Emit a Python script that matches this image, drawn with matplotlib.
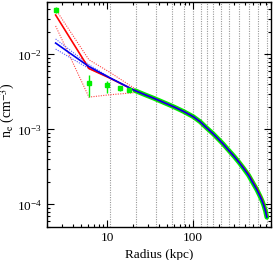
import matplotlib
matplotlib.use("Agg")
import matplotlib.pyplot as plt
from matplotlib.ticker import LogLocator, LogFormatterMathtext, NullFormatter

plt.rcParams['font.family'] = ['Liberation Serif', 'DejaVu Serif']
plt.rcParams['mathtext.fontset'] = 'stix'

# Annulus boundaries (vertical dotted lines), kpc
bounds = [10.9, 21.9, 37.1, 57, 77.6, 98.6, 122, 143.5, 171, 209, 262, 343, 442, 562, 725]

# Inner data points (green) with error bars
pt_r = [2.52, 6.14, 10.0, 14.2, 17.9]
pt_n = [0.039, 0.0042, 0.0039, 0.0036, 0.0034]
pt_lo = [0.0356, 0.0027, 0.0031, 0.0033, 0.0032]
pt_hi = [0.0429, 0.0053, 0.0044, 0.0038, 0.0036]

# Common outer profile
prof_r = [21, 28, 35, 45, 59, 77, 100, 120, 143, 170, 200, 222, 245, 270, 300, 340,
          386, 440, 505, 550, 600, 630, 660, 690, 716]
prof_n = [3.30e-3, 2.88e-3, 2.60e-3, 2.30e-3, 2.01e-3, 1.74e-3, 1.48e-3, 1.27e-3,
          1.05e-3, 8.77e-4, 7.26e-4, 6.41e-4, 5.64e-4, 4.97e-4, 4.34e-4, 3.64e-4,
          3.01e-4, 2.44e-4, 1.85e-4, 1.56e-4, 1.27e-4, 1.12e-4, 9.7e-5, 8.2e-5, 6.73e-5]
prof_n_red = [3.30e-3, 2.88e-3, 2.60e-3, 2.30e-3, 2.01e-3, 1.74e-3, 1.48e-3, 1.27e-3,
              1.05e-3, 8.77e-4, 7.26e-4, 6.41e-4, 5.64e-4, 4.97e-4, 4.36e-4, 3.68e-4,
              3.06e-4, 2.50e-4, 1.90e-4, 1.61e-4, 1.31e-4, 1.16e-4, 1.0e-4, 8.5e-5, 7.0e-5]

# Inner model segments
red_r = [2.52, 6.14, 10.7]
red_n = [0.0336, 6.5e-3, 4.85e-3]
red_up_r = [2.52, 6.14, 10.7, 21]
red_up_n = [0.040, 0.0085, 0.0058, 0.0035]
red_lo_r = [2.52, 6.14, 10.7, 21]
red_lo_n = [0.024, 0.0027, 0.0029, 0.0031]

blue_r = [2.52, 6.14, 10.7]
blue_n = [0.0142, 6.9e-3, 4.9e-3]
blue_up_n = [0.0161, 7.3e-3, 4.95e-3]
blue_lo_n = [0.0118, 6.5e-3, 4.85e-3]

fig = plt.figure(figsize=(2.74, 2.60), dpi=100)
ax = fig.add_axes([0.1715, 0.127, 0.8175, 0.865])
ax.set_xscale('log')
ax.set_yscale('log')
ax.set_xlim(2, 800)
ax.set_ylim(5e-5, 5e-2)

for b in bounds:
    ax.axvline(b, color='#999999', ls=(0, (1, 1.2)), lw=0.8, zorder=1)

ax.plot(prof_r, prof_n, color='#00ee00', lw=3.4, zorder=2, solid_capstyle='round')
ax.plot(red_up_r, red_up_n, color='#ff4444', ls=(0, (1, 1.2)), lw=0.8, zorder=3)
ax.plot(red_lo_r, red_lo_n, color='#ff4444', ls=(0, (1, 1.2)), lw=0.8, zorder=3)
ax.plot(blue_r + [21], blue_up_n + [3.3e-3], color='#5555ff', ls=(0, (1, 1.2)), lw=0.8, zorder=3)
ax.plot(blue_r + [21], blue_lo_n + [3.3e-3], color='#5555ff', ls=(0, (1, 1.2)), lw=0.8, zorder=3)
ax.plot(red_r + prof_r, red_n + prof_n_red, color='#ff0000', lw=1.2, zorder=4)
ax.plot(blue_r + prof_r, blue_n + prof_n, color='#0000ee', lw=1.2, zorder=5)

yerr = [[n - lo for n, lo in zip(pt_n, pt_lo)], [hi - n for n, hi in zip(pt_n, pt_hi)]]
ax.errorbar(pt_r, pt_n, yerr=yerr, fmt='s', color='#00ee00', ms=3, lw=1.0,
            capsize=0, zorder=6)

ax.tick_params(which='both', direction='in', top=True, right=True, labelsize=9.5,
               width=0.8)
ax.tick_params(which='major', length=5)
ax.tick_params(which='minor', length=2.5)
ax.xaxis.set_major_locator(LogLocator(base=10))
ax.xaxis.set_minor_locator(LogLocator(base=10, subs=range(2, 10)))
ax.xaxis.set_minor_formatter(NullFormatter())
ax.yaxis.set_major_formatter(LogFormatterMathtext())
ax.yaxis.set_minor_formatter(NullFormatter())
ax.xaxis.set_major_formatter(plt.FuncFormatter(lambda v, p: '%d' % v))

for s in ax.spines.values():
    s.set_linewidth(1.0)

ax.set_xlabel('Radius (kpc)', fontsize=9.5, labelpad=4)
ax.set_ylabel(r'n$_{\rm e}$ (cm$^{-3}$)', fontsize=10)
ax.yaxis.set_label_coords(-0.135, 0.52)

fig.savefig('out.png', dpi=100)
